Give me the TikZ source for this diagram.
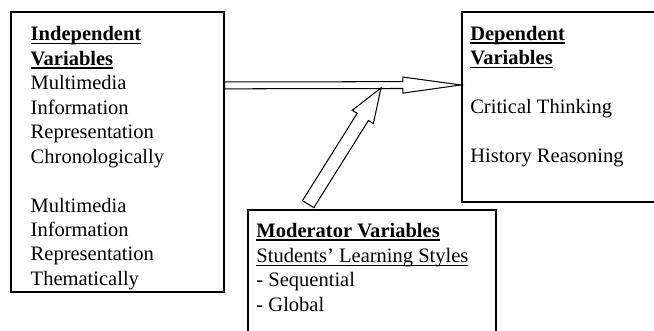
\documentclass[tikz,border=0pt]{standalone}
\usepackage{fontspec}
\setmainfont{Liberation Serif}
\usetikzlibrary{calc,fit}

% underlined headings
\newcommand\ulbold[1]{\setbox0\hbox{\bfseries #1}\rlap{\rule[-1.9pt]{\wd0}{1pt}}\box0}
\newcommand\ulthin[1]{\setbox0\hbox{#1}\rlap{\rule[-1.9pt]{\wd0}{0.5pt}}\box0}

% hollow block arrow: [style]{from}{to}{shaft half width}{head length}{head half width}
\newcommand\hollowarrow[6][]{%
  \coordinate (ha base) at ($(#3)!#5!(#2)$);
  \draw[#1] ($(#2)!#4!90:(#3)$) -- ($(ha base)!#4!90:(#3)$) -- ($(ha base)!#6!90:(#3)$)
    -- (#3) -- ($(ha base)!#6!-90:(#3)$) -- ($(ha base)!#4!-90:(#3)$) -- ($(#2)!#4!-90:(#3)$) -- cycle;
}

\begin{document}
\begin{tikzpicture}[x=0.585pt,y=0.585pt,
    vartext/.style={anchor=north west,align=left,inner sep=0pt,font=\fontsize{12}{14.3}\selectfont},
    varbox/.style={draw,inner sep=0pt},
    arrowline/.style={line width=0.6pt,line join=miter,fill=white}]
  \clip (0,0) rectangle (654,-331);

  % boxes
  \node[varbox,line width=0.7pt,fit={(11,-12) (224,-292)}] (indep) {};
  \node[varbox,line width=1.2pt,fit={(462,-12) (670,-202)}] (dep) {};
  \node[varbox,line width=1pt,fit={(248,-210) (496,-345)}] (mod) {};

  % texts
  \node[vartext] (indepText) at ($(indep.north west)+(20,-15)$)
    {\ulbold{Independent}\\ \ulbold{Variables}\\ Multimedia\\ Information\\ Representation\\ Chronologically\\
     \mbox{}\\ Multimedia\\ Information\\ Representation\\ Thematically};
  \node[vartext] (depText) at ($(dep.north west)+(9,-15)$)
    {\ulbold{Dependent}\\ \ulbold{Variables}\\ \mbox{}\\ Critical Thinking\\ \mbox{}\\ History Reasoning};
  \node[vartext] (modText) at ($(mod.north west)+(9,-14)$)
    {\ulbold{Moderator Variables}\\ \ulthin{Students’ Learning Styles}\\ - Sequential\\ - Global};

  % arrows
  \coordinate (indepOut) at ($(indep.north east)+(0,-74)$);
  \coordinate (depIn) at ($(dep.north west)+(0,-74)$);
  \coordinate (modOut) at ($(mod.north west)+(61,5)$);
  \coordinate (meet) at ($(dep.north west)+(-80,-77)$);
  \hollowarrow[arrowline]{indepOut}{depIn}{2pt}{34pt}{4.7pt}
  \hollowarrow[arrowline]{modOut}{meet}{3.9pt}{20pt}{7.3pt}
\end{tikzpicture}
\end{document}
